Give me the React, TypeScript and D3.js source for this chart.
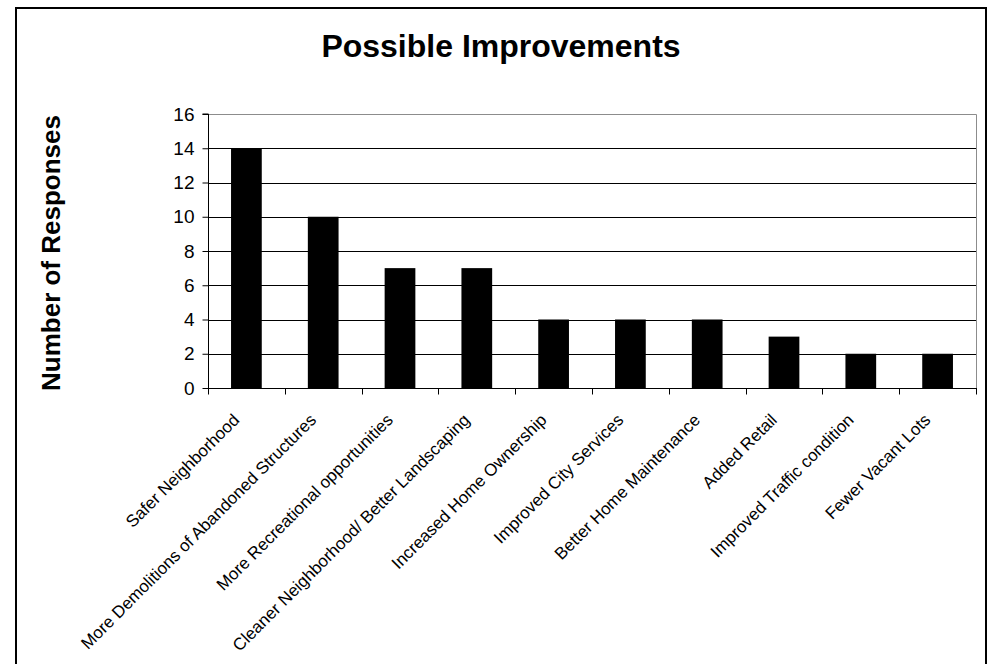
import React, { useEffect, useRef } from "react";
import * as d3 from "d3";

const categories: string[] = [
  "Safer Neighborhood",
  "More Demolitions of Abandoned Structures",
  "More Recreational opportunities",
  "Cleaner Neighborhood/ Better Landscaping",
  "Increased Home Ownership",
  "Improved City Services",
  "Better Home Maintenance",
  "Added Retail",
  "Improved Traffic condition",
  "Fewer Vacant Lots",
];
const responses: number[] = [14, 10, 7, 7, 4, 4, 4, 3, 2, 2];
const yTicks: number[] = [0, 2, 4, 6, 8, 10, 12, 14, 16];
const chartTitle = "Possible Improvements";
const yTitle = "Number of Responses";

const W = 993;
const H = 664;
const plot = { left: 208, right: 976, top: 114, bottom: 388 };
const FONT = "Arial, 'Liberation Sans', Helvetica, sans-serif";

export default function App() {
  const ref = useRef<SVGSVGElement | null>(null);

  useEffect(() => {
    const svg = d3.select(ref.current);
    svg.selectAll("*").remove();

    svg.append("rect").attr("x", 0).attr("y", 0).attr("width", W).attr("height", H).attr("fill", "#fff");
    // outer chart border (bottom cut off)
    svg
      .append("path")
      .attr("d", `M16,${H + 5} L16,8 L986,8 L986,${H + 5}`)
      .attr("fill", "none")
      .attr("stroke", "#000")
      .attr("stroke-width", 2);

    const x = d3
      .scaleBand<string>()
      .domain(categories)
      .range([plot.left, plot.right])
      .paddingInner(0.6)
      .paddingOuter(0.3);
    const band = d3.scaleBand<string>().domain(categories).range([plot.left, plot.right]);
    const y = d3.scaleLinear().domain([0, 16]).range([plot.bottom, plot.top]);

    // gridlines
    const g = svg.append("g");
    g.selectAll("line.grid")
      .data(yTicks.filter((t) => t > 0 && t < 16))
      .join("line")
      .attr("x1", plot.left)
      .attr("x2", plot.right)
      .attr("y1", (d) => Math.round(y(d)) + 0.5)
      .attr("y2", (d) => Math.round(y(d)) + 0.5)
      .attr("stroke", "#000")
      .attr("stroke-width", 1);

    // plot area border (top & right gray)
    g.append("path")
      .attr("d", `M${plot.left},${plot.top + 0.5} L${plot.right + 0.5},${plot.top + 0.5} L${plot.right + 0.5},${plot.bottom}`)
      .attr("fill", "none")
      .attr("stroke", "#8c8c8c")
      .attr("stroke-width", 1);

    // bars
    g.selectAll("rect.bar")
      .data(categories)
      .join("rect")
      .attr("x", (d) => x(d)!)
      .attr("width", x.bandwidth())
      .attr("y", (d, i) => y(responses[i]))
      .attr("height", (d, i) => plot.bottom - y(responses[i]))
      .attr("fill", "#000");

    // y axis
    const yAxis = d3
      .axisLeft(y)
      .tickValues(yTicks)
      .tickSize(6)
      .tickPadding(8)
      .tickFormat((d) => String(d));
    const ya = svg.append("g").attr("transform", `translate(${plot.left + 0.5},0)`).call(yAxis);
    ya.select(".domain").attr("stroke", "#000").attr("d", `M-6,${plot.top}H0V${plot.bottom + 0.5}`);
    ya.selectAll(".tick line").attr("stroke", "#000");
    ya.selectAll(".tick text")
      .attr("font-family", FONT)
      .attr("font-size", 19)
      .attr("fill", "#000");

    // x axis
    const xa = svg.append("g").attr("transform", `translate(0,${plot.bottom + 0.5})`);
    xa.append("line")
      .attr("x1", plot.left)
      .attr("x2", plot.right + 1)
      .attr("y1", 0)
      .attr("y2", 0)
      .attr("stroke", "#000");
    const boundaries = categories.map((c) => band(c)!).concat([plot.right]);
    xa.selectAll("line.tk")
      .data(boundaries)
      .join("line")
      .attr("x1", (d) => Math.round(d) + 0.5)
      .attr("x2", (d) => Math.round(d) + 0.5)
      .attr("y1", 0)
      .attr("y2", 6)
      .attr("stroke", "#000");

    svg
      .append("g")
      .selectAll("text")
      .data(categories)
      .join("text")
      .attr("transform", (d) => `translate(${band(d)! + band.bandwidth() / 2 - 6},421) rotate(-45)`)
      .attr("text-anchor", "end")
      .attr("font-family", FONT)
      .attr("font-size", 17)
      .attr("fill", "#000")
      .text((d) => d);

    // title
    svg
      .append("text")
      .attr("x", 501)
      .attr("y", 57)
      .attr("text-anchor", "middle")
      .attr("font-family", FONT)
      .attr("font-weight", "bold")
      .attr("font-size", 32)
      .attr("fill", "#000")
      .text(chartTitle);

    // y title
    svg
      .append("text")
      .attr("transform", `translate(60,253) rotate(-90)`)
      .attr("text-anchor", "middle")
      .attr("font-family", FONT)
      .attr("font-weight", "bold")
      .attr("font-size", 26)
      .attr("fill", "#000")
      .text(yTitle);
  }, []);

  return (
    <svg
      ref={ref}
      width={W}
      height={H}
      style={{ position: "absolute", left: 0, top: 0, display: "block" }}
    />
  );
}
